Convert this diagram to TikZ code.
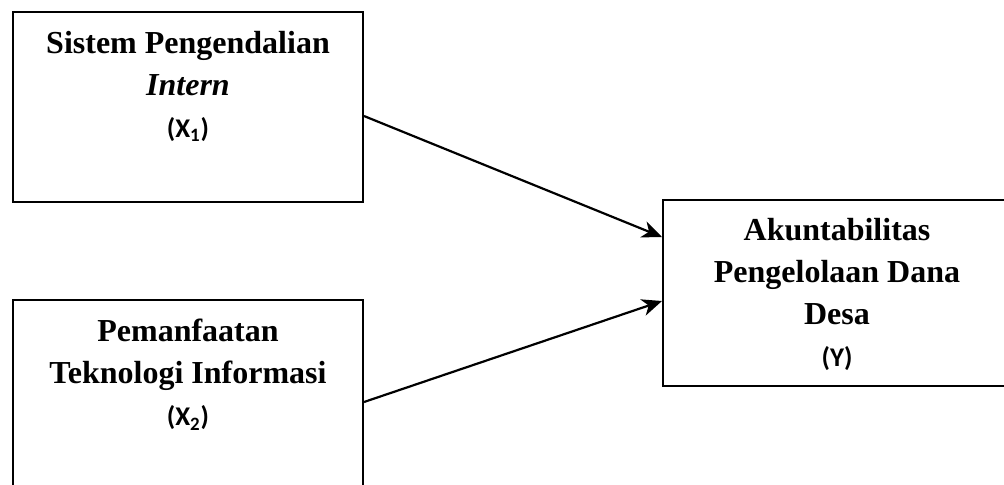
\documentclass[tikz,border=0pt]{standalone}
\usepackage{fontspec}
\setmainfont{Liberation Serif}
\newfontfamily\calibri{Carlito}
\usetikzlibrary{arrows.meta,%
                positioning}
\newcommand\VarLbl[1]{{\calibri\bfseries\fontsize{13.5}{21}\selectfont(#1)}}

\begin{document}
\begin{tikzpicture}[x=0.5pt,y=-0.5pt]
  \useasboundingbox (0,0) rectangle (1004,484);
  \tikzstyle{VarBox}=[draw,line width=1pt,minimum width=175pt,minimum height=95pt,anchor=north west,inner sep=0pt]
  \tikzstyle{VarText}=[align=center,inner sep=0pt,font=\bfseries\fontsize{16}{21}\selectfont]
  \tikzstyle{EdgeStyle}=[line width=1.1pt,-{Stealth[length=10pt,width=8.5pt,inset=3pt]}]
  % boxes
  \node[VarBox] (X1) at (12,11) {};
  \node[VarBox] (X2) at (12,299) {};
  \node[VarBox,minimum width=174pt,minimum height=93pt] (Y) at (662,199) {};
  % texts
  \node[VarText,below=10pt of X1.north] (X1t) {Sistem Pengendalian\\\textit{Intern}\\\VarLbl{X\textsubscript{1}}};
  \node[VarText,below=10pt of X2.north] (X2t) {Pemanfaatan\\Teknologi Informasi\\\VarLbl{X\textsubscript{2}}};
  \node[VarText,below=9.5pt of Y.north] (Yt) {Akuntabilitas\\Pengelolaan Dana\\Desa\\\VarLbl{Y}};
  % arrows
  \draw[EdgeStyle] ([yshift=-4.5pt]X1.east) -- ([yshift=28pt]Y.west);
  \draw[EdgeStyle] ([yshift=-3.5pt]X2.east) -- ([yshift=-4pt]Y.west);
\end{tikzpicture}
\end{document}
